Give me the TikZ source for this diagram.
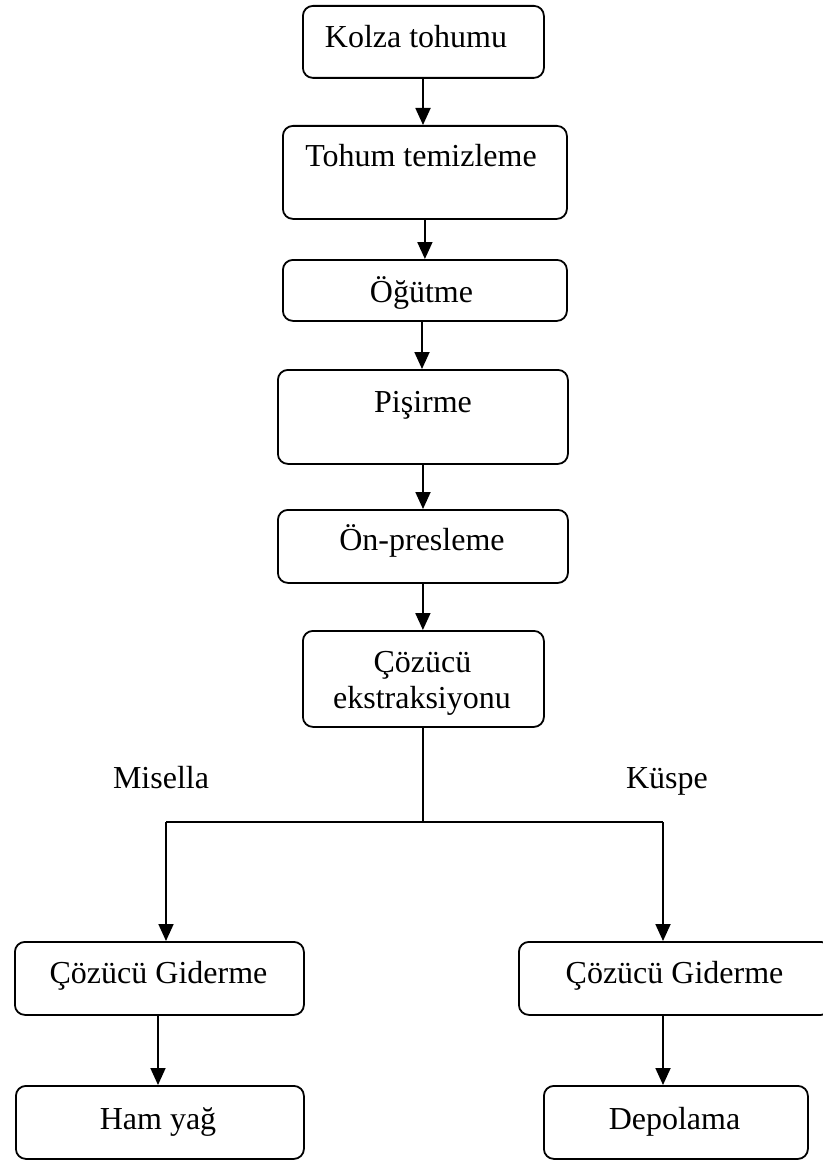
\documentclass[tikz,border=0pt]{standalone}
\usepackage{fontspec}
\setmainfont{Liberation Serif}
\usetikzlibrary{arrows.meta}
\tikzset{
  box/.style={draw, line width=1.8pt, rounded corners=10pt, inner sep=0pt, anchor=north west},
  txt/.style={anchor=base, inner sep=0pt, font=\fontsize{32}{38}\selectfont},
  arr/.style={line width=1.8pt, -{Triangle[width=15pt,length=17pt]}},
  ln/.style={line width=1.8pt}
}
\begin{document}
\begin{tikzpicture}[x=1pt,y=-1pt]
\useasboundingbox (0,0) rectangle (822,1161);
% boxes
\node[box, minimum width=241pt, minimum height=72pt] (b1) at (302,5) {};
\node[box, minimum width=284pt, minimum height=93pt] (b2) at (282,125) {};
\node[box, minimum width=284pt, minimum height=61pt] (b3) at (282,259) {};
\node[box, minimum width=290pt, minimum height=94pt] (b4) at (277,369) {};
\node[box, minimum width=290pt, minimum height=73pt] (b5) at (277,509) {};
\node[box, minimum width=241pt, minimum height=96pt] (b6) at (302,630) {};
\node[box, minimum width=289pt, minimum height=73pt] (b7) at (14,941) {};
\node[box, minimum width=312pt, minimum height=73pt] (b8) at (518,941) {};
\node[box, minimum width=288pt, minimum height=73pt] (b9) at (15,1085) {};
\node[box, minimum width=264pt, minimum height=73pt] (b10) at (543,1085) {};
% texts
\node[txt] (t1) at (416,48) {Kolza tohumu};
\node[txt] (t2) at (421,167) {Tohum temizleme};
\node[txt] (t3) at (421.5,302) {Öğütme};
\node[txt] (t4) at (423,412) {Pişirme};
\node[txt] (t5) at (422,550) {Ön-presleme};
\node[txt] (t6a) at (422.5,672) {Çözücü};
\node[txt] (t6b) at (422,708) {ekstraksiyonu};
\node[txt] (t7) at (158.5,983) {Çözücü Giderme};
\node[txt] (t8) at (674.5,983) {Çözücü Giderme};
\node[txt] (t9) at (158,1129) {Ham yağ};
\node[txt] (t10) at (674.5,1129) {Depolama};
\node[txt] (lm) at (161,788) {Misella};
\node[txt] (lk) at (667,788) {Küspe};
% connectors
\draw[arr] (b1.south -| 423,0) -- (423,0 |- b2.north);
\draw[arr] (b2.south) -- (b2.south |- b3.north);
\draw[arr] (b3.south -| 422,0) -- (422,0 |- b4.north);
\draw[arr] (b4.south -| 423,0) -- (423,0 |- b5.north);
\draw[arr] (b5.south) -- (b5.south |- b6.north);
\coordinate (j) at (423,822);
\coordinate (jl) at (166,822);
\coordinate (jr) at (663,822);
\draw[ln] (b6.south -| j) -- (j);
\draw[ln] (jl) -- (jr);
\draw[arr] (jl) -- (jl |- b7.north);
\draw[arr] (jr) -- (jr |- b8.north);
\draw[arr] (158,0 |- b7.south) -- (158,0 |- b9.north);
\draw[arr] (jr |- b8.south) -- (jr |- b10.north);
\end{tikzpicture}
\end{document}
